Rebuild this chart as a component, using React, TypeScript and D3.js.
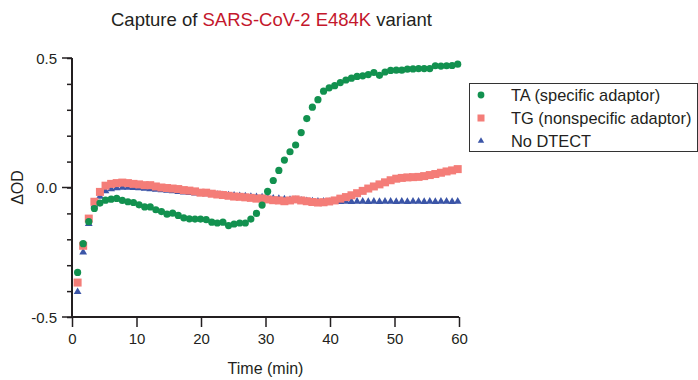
import { useRef, useEffect } from "react";
import * as d3 from "d3";

// Sampling times (min), one reading every ~52 s
const TIME = [
  0.87, 1.73, 2.6, 3.47, 4.33, 5.2, 6.07, 6.93, 7.8, 8.67, 9.53, 10.4, 11.27, 12.13, 13.0,
  13.87, 14.73, 15.6, 16.47, 17.33, 18.2, 19.07, 19.93, 20.8, 21.67, 22.53, 23.4, 24.27, 25.13,
  26.0, 26.87, 27.73, 28.6, 29.47, 30.33, 31.2, 32.07, 32.93, 33.8, 34.67, 35.53, 36.4, 37.27,
  38.13, 39.0, 39.87, 40.73, 41.6, 42.47, 43.33, 44.2, 45.07, 45.93, 46.8, 47.67, 48.53, 49.4,
  50.27, 51.13, 52.0, 52.87, 53.73, 54.6, 55.47, 56.33, 57.2, 58.07, 58.93, 59.8,
];

// TA (specific adaptor)
const TA = [
  -0.328, -0.217, -0.132, -0.081, -0.06, -0.049, -0.045, -0.042, -0.05, -0.055, -0.058, -0.067,
  -0.075, -0.075, -0.086, -0.093, -0.103, -0.099, -0.108, -0.117, -0.121, -0.122, -0.122, -0.124,
  -0.134, -0.137, -0.134, -0.147, -0.141, -0.137, -0.137, -0.122, -0.1, -0.068, -0.015, 0.027,
  0.066, 0.106, 0.138, 0.164, 0.212, 0.266, 0.31, 0.339, 0.372, 0.385, 0.393, 0.405, 0.415, 0.422,
  0.429, 0.431, 0.436, 0.444, 0.433, 0.446, 0.452, 0.453, 0.453, 0.457, 0.458, 0.459, 0.459, 0.459,
  0.47, 0.469, 0.47, 0.471, 0.476,
];

// TG (nonspecific adaptor)
const TG = [
  -0.367, -0.225, -0.12, -0.055, -0.017, 0.007, 0.014, 0.017, 0.019, 0.017, 0.014, 0.012, 0.009,
  0.009, 0.004, 0.0, -0.002, -0.004, -0.006, -0.01, -0.012, -0.015, -0.02, -0.02, -0.024, -0.027,
  -0.029, -0.032, -0.035, -0.036, -0.038, -0.04, -0.043, -0.042, -0.046, -0.049, -0.05, -0.053,
  -0.05, -0.046, -0.05, -0.053, -0.056, -0.058, -0.057, -0.054, -0.05, -0.043, -0.037, -0.03,
  -0.022, -0.013, -0.004, 0.004, 0.012, 0.02, 0.028, 0.034, 0.037, 0.039, 0.04, 0.041, 0.044,
  0.048, 0.052, 0.057, 0.062, 0.066, 0.071,
];

// No DTECT
const NO_DTECT = [
  -0.403, -0.25, -0.14, -0.068, -0.035, -0.014, -0.006, -0.002, 0.0, 0.0, -0.001, -0.002, -0.004,
  -0.006, -0.008, -0.01, -0.012, -0.014, -0.016, -0.018, -0.02, -0.022, -0.024, -0.025, -0.026,
  -0.028, -0.029, -0.03, -0.031, -0.033, -0.034, -0.036, -0.037, -0.038, -0.04, -0.042, -0.043,
  -0.045, -0.047, -0.048, -0.05, -0.052, -0.053, -0.054, -0.054, -0.055, -0.054, -0.055, -0.054,
  -0.055, -0.054, -0.054, -0.055, -0.054, -0.055, -0.054, -0.054, -0.055, -0.054, -0.055, -0.054,
  -0.054, -0.055, -0.054, -0.055, -0.054, -0.054, -0.055, -0.054,
];

const X_TICKS = [0, 10, 20, 30, 40, 50, 60];
const Y_MAJOR = [-0.5, 0, 0.5];
const LEGEND = ["TA (specific adaptor)", "TG (nonspecific adaptor)", "No DTECT"];

const GREEN = "#12914f";
const SALMON = "#f47d78";
const BLUE = "#3b55a7";
const INK = "#231f20";
const FONT = "'Liberation Sans', Arial, Helvetica, sans-serif";

export default function App() {
  const svgRef = useRef<SVGSVGElement>(null);
  const W = 698;
  const H = 380;

  useEffect(() => {
    if (!svgRef.current) return;
    const svg = d3.select(svgRef.current);
    svg.selectAll("*").remove();

    const x = d3.scaleLinear().domain([0, 60]).range([72, 459]);
    const y = d3.scaleLinear().domain([-0.5, 0.5]).range([317, 58]);

    // Title
    const title = svg.append("text").attr("x", 111).attr("y", 26)
      .attr("font-family", FONT).attr("font-size", "18.5px").attr("fill", INK);
    title.append("tspan").text("Capture of ");
    title.append("tspan").attr("fill", "#c4172c").text("SARS-CoV-2 E484K");
    title.append("tspan").text(" variant");

    // Y axis: majors with labels, minors every 0.1
    const yAxis = svg.append("g").attr("transform", `translate(${x(0)},0)`);
    yAxis.call(d3.axisLeft(y).tickValues(d3.range(-5, 6).map(d => d / 10)).tickSize(5).tickFormat(() => ""));
    yAxis.call(g => g.selectAll(".tick line").attr("stroke", INK).attr("stroke-width", 1.5));
    Y_MAJOR.forEach(v => {
      yAxis.append("line").attr("x1", -10).attr("x2", 0).attr("y1", y(v)).attr("y2", y(v))
        .attr("stroke", INK).attr("stroke-width", 1.5);
      yAxis.append("text").attr("x", -15).attr("y", y(v) + 5.5).attr("text-anchor", "end")
        .attr("font-family", FONT).attr("font-size", "15px").attr("fill", INK)
        .text(v === 0 ? "0.0" : d3.format(".1f")(v).replace("−", "-"));
    });
    yAxis.select(".domain").attr("stroke", INK).attr("stroke-width", 2).attr("d", `M0,${y(0.5)}V${y(-0.5)}`);

    // X axis
    const xAxis = svg.append("g").attr("transform", `translate(0,${y(-0.5)})`);
    xAxis.call(d3.axisBottom(x).tickValues(X_TICKS).tickSize(10).tickPadding(6).tickFormat(d3.format("d")));
    xAxis.select(".domain").attr("stroke", INK).attr("stroke-width", 2).attr("d", `M${x(0)},0H${x(60)}`);
    xAxis.selectAll(".tick line").attr("stroke", INK).attr("stroke-width", 1.5);
    xAxis.selectAll(".tick text").attr("font-family", FONT).attr("font-size", "15px").attr("fill", INK);

    // Axis titles
    svg.append("text").attr("x", (x(0) + x(60)) / 2).attr("y", 374).attr("text-anchor", "middle")
      .attr("font-family", FONT).attr("font-size", "16px").attr("fill", INK).text("Time (min)");
    svg.append("text").attr("transform", `translate(23,${y(0)}) rotate(-90)`).attr("text-anchor", "middle")
      .attr("font-family", FONT).attr("font-size", "16px").attr("fill", INK).text("ΔOD");

    // No DTECT triangles
    const tri = d3.symbol().type(d3.symbolTriangle).size(26);
    svg.append("g").selectAll("path").data(TIME).join("path")
      .attr("d", tri).attr("transform", (t, i) => `translate(${x(t)},${y(NO_DTECT[i])})`)
      .attr("fill", BLUE);

    // TG squares
    const sq = 8;
    svg.append("g").selectAll("rect").data(TIME).join("rect")
      .attr("x", t => x(t) - sq / 2).attr("y", (t, i) => y(TG[i]) - sq / 2)
      .attr("width", sq).attr("height", sq).attr("fill", SALMON);

    // TA circles
    svg.append("g").selectAll("circle").data(TIME).join("circle")
      .attr("cx", t => x(t)).attr("cy", (t, i) => y(TA[i])).attr("r", 3.6).attr("fill", GREEN);

    // Legend
    const lg = svg.append("g");
    lg.append("rect").attr("x", 469.5).attr("y", 83.5).attr("width", 228).attr("height", 68)
      .attr("fill", "none").attr("stroke", "#333").attr("stroke-width", 1);
    LEGEND.forEach((label, i) => {
      const cy = 95 + i * 23;
      if (i === 0) lg.append("circle").attr("cx", 481).attr("cy", cy).attr("r", 3.4).attr("fill", GREEN);
      if (i === 1) lg.append("rect").attr("x", 477.5).attr("y", cy - 3.5).attr("width", 7).attr("height", 7).attr("fill", SALMON);
      if (i === 2) lg.append("path").attr("d", d3.symbol().type(d3.symbolTriangle).size(18)()!)
        .attr("transform", `translate(481,${cy})`).attr("fill", BLUE);
      lg.append("text").attr("x", 511).attr("y", cy + 6).attr("font-family", FONT)
        .attr("font-size", "16.4px").attr("fill", INK).text(label);
    });
  }, []);

  return (
    <div style={{ position: "absolute", left: 0, top: 0 }}>
      <svg ref={svgRef} width={W} height={H} style={{ display: "block", background: "#fff" }} />
    </div>
  );
}
